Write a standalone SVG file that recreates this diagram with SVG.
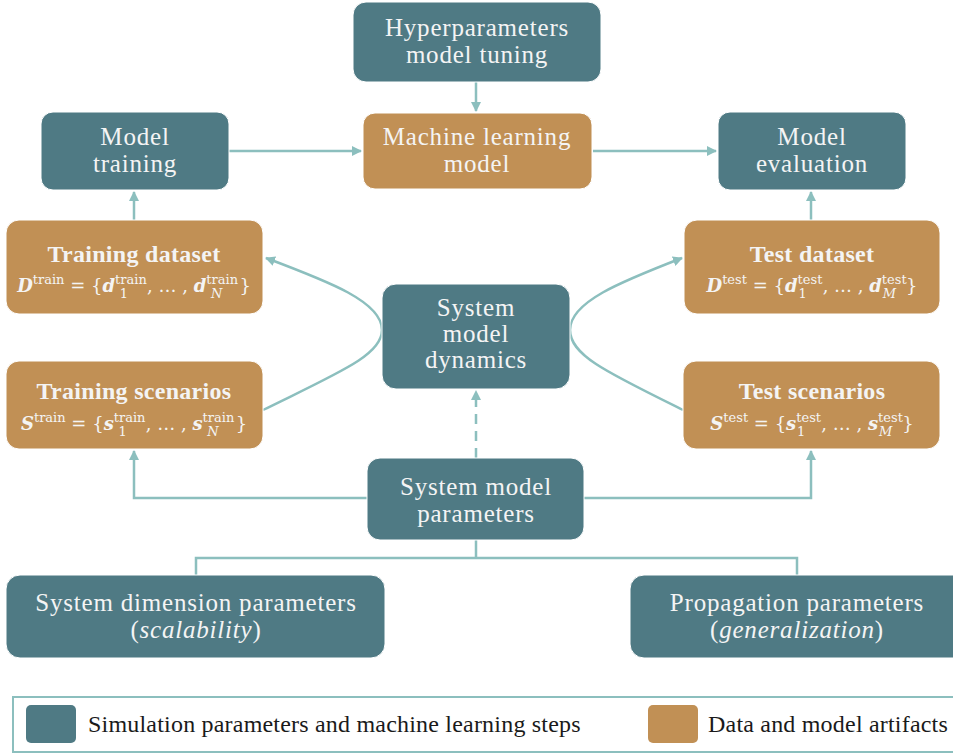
<svg xmlns="http://www.w3.org/2000/svg" width="953" height="753" viewBox="0 0 953 753">
<defs>
<marker id="ah" viewBox="0 0 10 10" refX="9" refY="5" markerWidth="10" markerHeight="10" markerUnits="userSpaceOnUse" orient="auto">
<path d="M0,0 L10,5 L0,10 z" fill="#8CBFBE"/>
</marker>
<style>
.t{fill:#4F7A84;stroke:#ffffff;stroke-width:1}
.o{fill:#C19055;stroke:#ffffff;stroke-width:1}
.tx{font-family:"Liberation Serif","DejaVu Serif",serif;font-size:25px;letter-spacing:0.8px;fill:#F4F4F4;text-anchor:middle}
.b{font-weight:bold;font-size:24px;letter-spacing:0.3px}
.m{font-family:"DejaVu Serif","Liberation Serif",serif;font-size:18px;fill:#F4F4F4;text-anchor:middle}
.sup{font-size:13px}
.c{fill:none;stroke:#8CBFBE;stroke-width:2.5}
.lg{font-family:"Liberation Serif","DejaVu Serif",serif;font-size:24px;letter-spacing:0.2px;fill:#1a1a1a}
</style>
</defs>
<rect width="953" height="753" fill="#ffffff"/>
<g id="connectors">
<path class="c" d="M476,82 V111" marker-end="url(#ah)"/>
<path class="c" d="M229,151 H361" marker-end="url(#ah)"/>
<path class="c" d="M593,151 H716" marker-end="url(#ah)"/>
<path class="c" d="M134,220 V192" marker-end="url(#ah)"/>
<path class="c" d="M811,220 V192" marker-end="url(#ah)"/>
<path class="c" d="M263,410 C340,372 382,355 382,330 C382,302 330,282 266,258" marker-end="url(#ah)"/>
<path class="c" d="M683,410 C606,372 570,355 570,330 C570,302 620,282 682,258" marker-end="url(#ah)"/>
<path class="c" d="M476,458 V391" stroke-dasharray="10,7" marker-end="url(#ah)"/>
<path class="c" d="M367,498 H134 V451" marker-end="url(#ah)"/>
<path class="c" d="M584,498 H811 V451" marker-end="url(#ah)"/>
<path class="c" d="M476,540 V558 M196,575 V558 H797 V575"/>
</g>
<g id="hyper">
<rect class="t" x="353" y="2" width="248" height="80" rx="13"/>
<text class="tx" x="477" y="36">Hyperparameters</text>
<text class="tx" x="477" y="63">model tuning</text>
</g>
<g id="ml">
<rect class="o" x="363" y="113" width="229" height="76" rx="12"/>
<text class="tx" x="477" y="145">Machine learning</text>
<text class="tx" x="477" y="172">model</text>
</g>
<g id="training">
<rect class="t" x="41" y="112" width="188" height="78" rx="12"/>
<text class="tx" x="135" y="145">Model</text>
<text class="tx" x="135" y="172">training</text>
</g>
<g id="evaluation">
<rect class="t" x="718" y="112" width="188" height="78" rx="12"/>
<text class="tx" x="812" y="145">Model</text>
<text class="tx" x="812" y="172">evaluation</text>
</g>
<g id="train-dataset">
<rect class="o" x="6" y="220" width="257" height="94" rx="13"/>
<text class="tx b" x="134" y="262">Training dataset</text>
<text class="m" x="134" y="292"><tspan font-weight="bold" font-style="italic">D</tspan><tspan class="sup" dy="-8">train</tspan><tspan dy="8"> = {</tspan><tspan font-weight="bold" font-style="italic">d</tspan><tspan class="sup" dy="-8">train</tspan><tspan class="sup" dx="-27" dy="14">1</tspan><tspan dx="19" dy="-6">, … , </tspan><tspan font-weight="bold" font-style="italic">d</tspan><tspan class="sup" dy="-8">train</tspan><tspan class="sup" font-style="italic" dx="-27" dy="14">N</tspan><tspan dx="17" dy="-6">}</tspan></text>
</g>
<g id="test-dataset">
<rect class="o" x="684" y="220" width="256" height="94" rx="13"/>
<text class="tx b" x="812" y="262">Test dataset</text>
<text class="m" x="812" y="292"><tspan font-weight="bold" font-style="italic">D</tspan><tspan class="sup" dy="-8">test</tspan><tspan dy="8"> = {</tspan><tspan font-weight="bold" font-style="italic">d</tspan><tspan class="sup" dy="-8">test</tspan><tspan class="sup" dx="-24" dy="14">1</tspan><tspan dx="16" dy="-6">, … , </tspan><tspan font-weight="bold" font-style="italic">d</tspan><tspan class="sup" dy="-8">test</tspan><tspan class="sup" font-style="italic" dx="-24" dy="14">M</tspan><tspan dx="10" dy="-6">}</tspan></text>
</g>
<g id="dynamics">
<rect class="t" x="382" y="284" width="188" height="105" rx="14"/>
<text class="tx" x="476" y="316">System</text>
<text class="tx" x="476" y="342">model</text>
<text class="tx" x="476" y="368">dynamics</text>
</g>
<g id="train-scen">
<rect class="o" x="6" y="361" width="257" height="88" rx="13"/>
<text class="tx b" x="134" y="399">Training scenarios</text>
<text class="m" x="134" y="430"><tspan font-weight="bold" font-style="italic">S</tspan><tspan class="sup" dy="-8">train</tspan><tspan dy="8"> = {</tspan><tspan font-weight="bold" font-style="italic">s</tspan><tspan class="sup" dy="-8">train</tspan><tspan class="sup" dx="-27" dy="14">1</tspan><tspan dx="19" dy="-6">, … , </tspan><tspan font-weight="bold" font-style="italic">s</tspan><tspan class="sup" dy="-8">train</tspan><tspan class="sup" font-style="italic" dx="-27" dy="14">N</tspan><tspan dx="17" dy="-6">}</tspan></text>
</g>
<g id="test-scen">
<rect class="o" x="683" y="361" width="257" height="88" rx="13"/>
<text class="tx b" x="812" y="399">Test scenarios</text>
<text class="m" x="812" y="430"><tspan font-weight="bold" font-style="italic">S</tspan><tspan class="sup" dy="-8">test</tspan><tspan dy="8"> = {</tspan><tspan font-weight="bold" font-style="italic">s</tspan><tspan class="sup" dy="-8">test</tspan><tspan class="sup" dx="-24" dy="14">1</tspan><tspan dx="16" dy="-6">, … , </tspan><tspan font-weight="bold" font-style="italic">s</tspan><tspan class="sup" dy="-8">test</tspan><tspan class="sup" font-style="italic" dx="-24" dy="14">M</tspan><tspan dx="10" dy="-6">}</tspan></text>
</g>
<g id="params">
<rect class="t" x="367" y="458" width="217" height="82" rx="13"/>
<text class="tx" x="476" y="495">System model</text>
<text class="tx" x="476" y="522">parameters</text>
</g>
<g id="dimension">
<rect class="t" x="6" y="575" width="379" height="83" rx="14"/>
<text class="tx" x="196" y="611">System dimension parameters</text>
<text class="tx" x="196" y="638">(<tspan font-style="italic">scalability</tspan>)</text>
</g>
<g id="propagation">
<rect class="t" x="630" y="575" width="340" height="83" rx="14"/>
<text class="tx" x="797" y="611">Propagation parameters</text>
<text class="tx" x="797" y="638">(<tspan font-style="italic">generalization</tspan>)</text>
</g>
<g id="legend">
<rect x="13" y="697" width="960" height="55" fill="#ffffff" stroke="#8CBFBE" stroke-width="2"/>
<rect x="26" y="705" width="50" height="38" rx="5" fill="#4F7A84"/>
<text class="lg" x="88" y="732">Simulation parameters and machine learning steps</text>
<rect x="648" y="705" width="50" height="38" rx="5" fill="#C19055"/>
<text class="lg" x="708" y="732">Data and model artifacts</text>
</g>
</svg>
